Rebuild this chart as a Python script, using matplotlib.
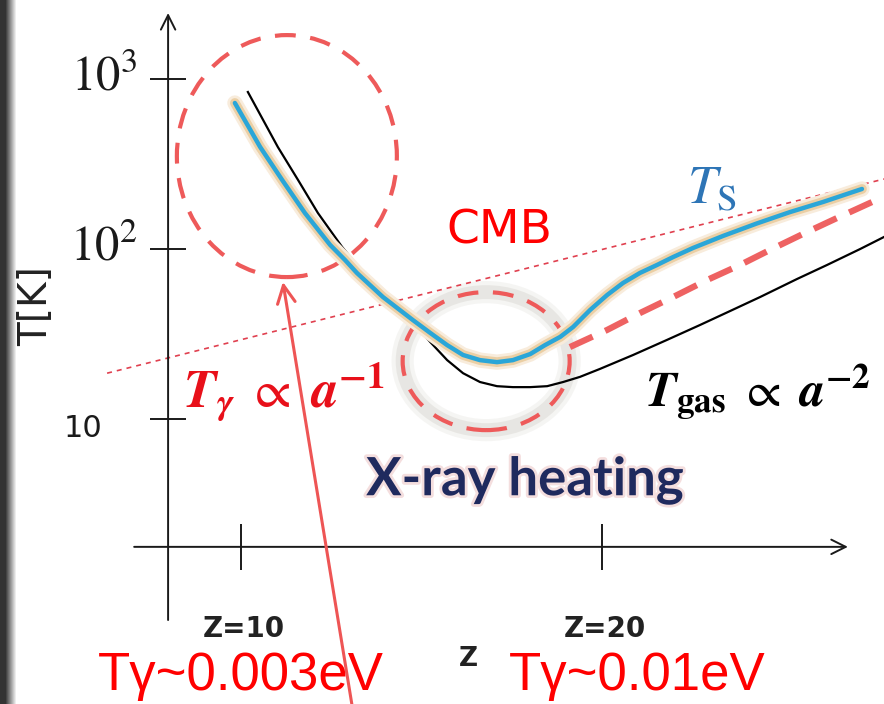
import numpy as np
import matplotlib.pyplot as plt
import matplotlib.patheffects as pe
from matplotlib.patches import Ellipse
from matplotlib.transforms import IdentityTransform

plt.rcParams['mathtext.fontset'] = 'stix'

W, H = 884, 704

# redshift-like horizontal coordinate and temperatures in K
cmb_z = [6.29, 27.81]
cmb_T = [18.6, 258]

gas_z = [10.19, 11.02, 11.58, 12.13, 12.80, 13.16, 13.93, 14.40, 14.88, 15.24,
         15.71, 16.15, 16.62, 17.09, 17.53, 18.01, 18.48, 18.92, 19.39, 19.94,
         20.86, 21.80, 22.71, 23.55, 24.38, 25.40, 26.23, 27.15, 27.81]
gas_T = [838.5, 398, 254.6, 162.8, 102.8, 82.7, 50.8, 42.0, 34.8, 28.4,
         22.2, 18.6, 16.5, 15.6, 15.4, 15.4, 15.6, 16.5, 17.7, 19.7,
         23.8, 29.2, 35.7, 43.2, 52.2, 66.6, 80.5, 100.0, 117.7]

spin_z = [9.83, 10.53, 11.14, 11.77, 12.47, 12.88, 13.21, 13.93, 14.76, 15.24,
          15.71, 16.15, 16.62, 17.09, 17.53, 18.01, 18.42, 18.84, 19.20, 19.67,
          20.14, 20.58, 21.05, 21.52, 21.97, 22.52, 23.35, 24.29, 25.21, 26.12,
          27.20]
spin_T = [722.6, 398, 254.6, 162.8, 105.6, 86.2, 72.3, 52.2, 38.2, 32.1,
          27.2, 23.8, 22.2, 21.6, 22.2, 24.1, 27.2, 30.4, 34.8, 43.8,
          53.6, 63.1, 72.3, 80.5, 89.7, 101.4, 119.3, 141.4, 165.0, 189.0,
          225.5]

heated_z = [19.11, 20.14, 21.05, 21.97, 22.91, 23.82, 24.65, 25.62, 26.51, 27.48,
            27.81]
heated_T = [26.5, 33.4, 42.0, 52.2, 65.7, 80.5, 98.7, 124.2, 152.2, 189.0,
            205.0]

z_ticks = [10, 20]
z_tick_labels = ['Z=10', 'Z=20']
T_ticks = [10, 100, 1000]
T_tick_labels = ['10', r'$10^2$', r'$10^3$']

# where the drawn axes cross, and where the callouts sit
axis_z, axis_T = 7.98, 1.77
z_axis_span = (7.04, 26.81)
T_axis_span = (0.657, 2444)
early_ring = (11.27, 352, 220, 242)     # z, T, width px, height px
xray_ring = (16.79, 21.9, 167, 138)
pointer_tail = (13.07, 0.21)
pointer_head = (11.16, 64.0)

fig = plt.figure(figsize=(W / 100, H / 100), dpi=100)
ax = fig.add_axes([0, 0, 1, 1])
ax.set_yscale('log')
ax.set_xlim(3.324, 27.81)
ax.set_ylim(0.2107, 2915)
ax.axis('off')

ink = '#1a1a1a'
arrow_kw = dict(arrowstyle='->', lw=1.4, color=ink, mutation_scale=26,
                shrinkA=0, shrinkB=0)
ax.annotate('', xy=(axis_z, T_axis_span[1]), xytext=(axis_z, T_axis_span[0]),
            arrowprops=arrow_kw)
ax.annotate('', xy=(z_axis_span[1], axis_T), xytext=(z_axis_span[0], axis_T),
            arrowprops=arrow_kw)
ax.plot([axis_z] * len(T_ticks), T_ticks, ls='none', marker='_', ms=26,
        mew=1.4, color=ink)
ax.plot(z_ticks, [axis_T] * len(z_ticks), ls='none', marker='|', ms=33,
        mew=1.4, color=ink)

# CMB temperature, gas temperature, heated gas and spin temperature
ax.plot(cmb_z, cmb_T, color='#e0404f', lw=1.2, ls=(0, (3, 3)))
ax.plot(gas_z, gas_T, color='black', lw=1.6, solid_joinstyle='round')
ax.plot(heated_z, heated_T, color='#ee6262', lw=4.5, ls=(0, (4, 2.2)))
ax.plot(spin_z, spin_T, color='#2aa6d8', lw=3.2, solid_joinstyle='round',
        solid_capstyle='round',
        path_effects=[pe.Stroke(linewidth=11, foreground='#f8ecdc'),
                      pe.Stroke(linewidth=7, foreground='#ebcfa4'),
                      pe.Normal()])


def ring(spec, halo=False):
    z, T, w, h = spec
    cx, cy = ax.transData.transform((z, T))
    if halo:
        for lw, a in [(16, 0.08), (10, 0.12)]:
            ax.add_patch(Ellipse((cx, cy), w, h, transform=IdentityTransform(),
                                 fill=False, lw=lw, color='#8a8070', alpha=a))
    ax.add_patch(Ellipse((cx, cy), w, h, transform=IdentityTransform(),
                         fill=False, lw=3, color='#ee5a5a', ls=(0, (5, 3.5))))


ring(early_ring)
ring(xray_ring, halo=True)

ax.annotate('', xy=pointer_head, xytext=pointer_tail,
            arrowprops=dict(arrowstyle='->', color='#ee5555', lw=2.2,
                            mutation_scale=32, shrinkA=0, shrinkB=0))

# tick labels
for T, lab in zip(T_ticks, T_tick_labels):
    if T == 10:
        ax.annotate(lab, (axis_z, T), xytext=(-47, -7), textcoords='offset points',
                    ha='right', va='center', fontsize=22, color=ink)
    else:
        ax.annotate(lab, (axis_z, T), xytext=(-22, 2), textcoords='offset points',
                    ha='right', va='center', fontsize=35, color=ink)
for z, lab in zip(z_ticks, z_tick_labels):
    ax.annotate(lab, (z, axis_T), xytext=(2, -59), textcoords='offset points',
                ha='center', va='center', fontsize=20, fontweight='bold',
                color='#222')


def label(x, y, s, **kw):
    fig.text(x / W, 1 - y / H, s, ha='center', va='center', **kw)


label(36, 306, 'T[K]', rotation=90, fontsize=28, color='#222')
label(468, 659, 'Z', fontsize=19, fontweight='bold', color='#222')
label(499, 231, 'CMB', fontsize=34, color='#ff0000')
label(712, 188, r'$T_{\mathrm{S}}$', fontsize=38, color='#2e75b6')
label(284, 392,
      r'$\boldsymbol{T}_{\boldsymbol{\gamma}}\ \propto\ \boldsymbol{a}^{\mathbf{-1}}$',
      fontsize=38, color='#e8101a')
label(758, 392,
      r'$\boldsymbol{T}_{\mathbf{gas}}\ \propto\ \boldsymbol{a}^{\mathbf{-2}}$',
      fontsize=36, color='black')
label(525, 480, 'X-ray heating', fontsize=38, fontweight='bold', color='#1f2a5e',
      family='Lato',
      path_effects=[pe.withStroke(linewidth=4, foreground='#f4dede')])
label(241, 676, 'Tγ~0.003eV', fontsize=38, color='#ff0000',
      family='Liberation Sans')
label(637, 676, 'Tγ~0.01eV', fontsize=38, color='#ff0000',
      family='Liberation Sans')

# dark shading along the left edge
edge = fig.add_axes([0, 0, 20 / W, 1])
shade = np.clip((np.arange(20) - 5) / 11, 0, 1) * 0.8 + 0.2
edge.imshow(shade[None, :], cmap='gray', vmin=0, vmax=1, aspect='auto')
edge.axis('off')

fig.savefig('out.png', dpi=100)
